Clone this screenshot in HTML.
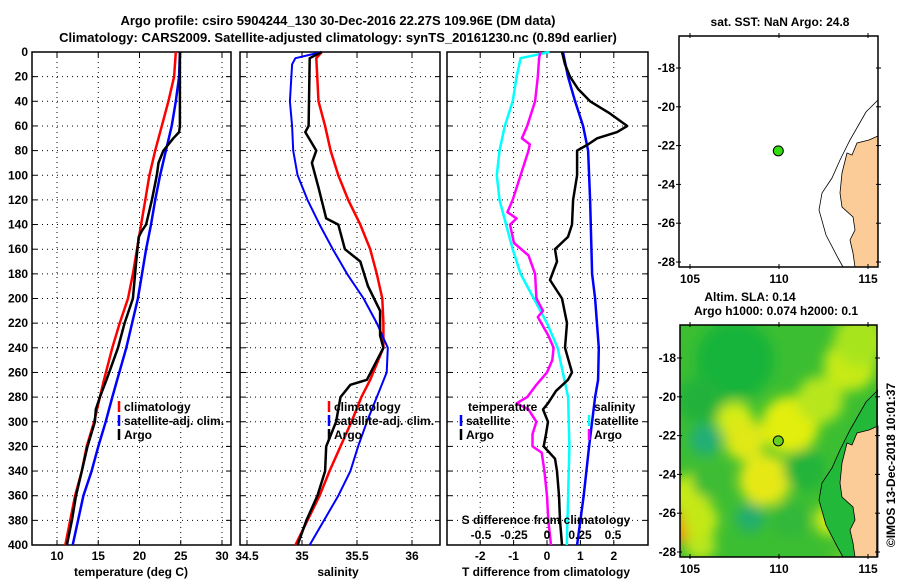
<!DOCTYPE html>
<html><head><meta charset="utf-8">
<style>
body{margin:0;background:#fff;}
svg text{font-family:"Liberation Sans",sans-serif;font-weight:bold;fill:#000;}
</style></head>
<body>
<svg id="fig" width="900" height="580" viewBox="0 0 900 580" xmlns="http://www.w3.org/2000/svg">
<defs>
<filter id="blur" x="-20%" y="-20%" width="140%" height="140%"><feGaussianBlur stdDeviation="6"/></filter>
<clipPath id="m2clip"><rect x="680" y="325" width="197" height="232"/></clipPath>
</defs>
<text x="338" y="25" font-size="13" text-anchor="middle">Argo profile: csiro 5904244_130 30-Dec-2016 22.27S 109.96E (DM data)</text>
<text x="338" y="42" font-size="13" text-anchor="middle">Climatology: CARS2009. Satellite-adjusted climatology: synTS_20161230.nc (0.89d earlier)</text>
<g id="g"></g>
</svg>
<script>
// depth levels (m)
const tClimD = [0,20,40,60,80,100,120,140,160,180,200,220,240,266,280,300,320,340,360,400];
const tClim  = [24.4,24.2,23.5,22.7,21.9,21.2,20.7,20.2,19.7,19.2,18.6,17.6,16.7,15.7,15.2,14.5,13.6,13.0,12.2,11.0];
const tSatD  = [0,20,40,60,80,100,120,140,160,180,200,220,240,266,280,300,320,340,360,400];
const tSat   = [24.9,24.8,24.4,23.9,23.2,22.5,21.9,21.4,20.8,20.3,19.8,19.1,18.4,17.3,16.7,15.9,15.0,14.2,13.2,11.9];
const tArgoD = [0,30,60,65,70,80,90,100,120,140,145,150,170,200,220,240,266,280,290,300,320,340,360,380,400];
const tArgo  = [24.9,24.9,24.9,24.8,24.1,22.9,22.3,22.1,21.5,20.8,20.3,19.9,19.6,19.2,18.2,17.4,16.0,15.2,14.7,14.6,13.7,13.0,12.3,11.8,11.2];
// salinity (PSU)
const sClimD = [0,5,40,60,80,100,120,140,160,180,200,220,240,266,280,300,320,340,360,400];
const sClim  = [35.18,35.13,35.15,35.21,35.26,35.33,35.42,35.53,35.62,35.68,35.73,35.74,35.74,35.62,35.54,35.45,35.35,35.25,35.16,34.94];
const sSatD  = [0,5,10,40,60,80,100,120,140,160,180,200,220,240,260,280,300,320,340,360,400];
const sSat   = [35.18,34.94,34.91,34.89,34.91,34.92,34.96,35.05,35.16,35.28,35.41,35.56,35.68,35.78,35.77,35.68,35.59,35.51,35.44,35.33,35.07];
const sArgoD = [0,5,60,65,80,90,110,135,140,160,170,190,210,230,240,266,270,280,290,300,320,340,360,380,400];
const sArgo  = [35.18,35.07,35.06,35.03,35.13,35.09,35.15,35.22,35.33,35.39,35.53,35.60,35.71,35.71,35.74,35.59,35.44,35.35,35.33,35.31,35.22,35.21,35.14,35.04,34.96];
// differences from climatology
const dTSatD = [0,20,40,60,80,120,180,200,240,266,280,320,360,400];
const dTSat  = [0.48,0.63,0.84,1.08,1.23,1.29,1.35,1.44,1.55,1.53,1.44,1.26,1.10,0.90];
const dTArgoD = [0,10,20,30,40,50,60,65,70,75,80,100,120,140,150,160,170,185,200,220,240,260,266,275,285,290,300,310,320,330,340,360,380,400];
const dTArgo  = [0.45,0.54,0.69,0.93,1.29,1.89,2.40,2.10,1.50,1.23,0.90,0.90,0.78,0.75,0.63,0.24,0.30,0.09,0.45,0.60,0.54,0.75,0.63,0.27,0.03,-0.12,0.03,-0.03,-0.10,0.24,0.30,0.36,0.39,0.45];
const dSSatD = [0,5,20,40,60,80,100,120,160,180,200,220,240,260,280,320,360,400];
const dSSat  = [0.02,-0.20,-0.23,-0.26,-0.32,-0.36,-0.38,-0.36,-0.26,-0.20,-0.10,0.00,0.08,0.12,0.16,0.17,0.16,0.15];
const dSArgoD = [0,5,20,40,60,70,75,80,100,120,130,135,140,155,165,180,200,210,215,230,240,250,260,270,280,285,290,300,310,320,325,340,360,380,400];
const dSArgo  = [-0.05,-0.06,-0.07,-0.09,-0.15,-0.19,-0.13,-0.14,-0.20,-0.26,-0.30,-0.23,-0.28,-0.25,-0.14,-0.09,-0.08,-0.03,-0.07,0.01,0.05,0.04,0.00,-0.08,-0.15,-0.23,-0.14,-0.08,-0.11,-0.11,-0.04,-0.02,0.00,0.01,0.03];
const depthTicks = [0,20,40,60,80,100,120,140,160,180,200,220,240,260,280,300,320,340,360,380,400];
const tTicks = [10,15,20,25,30];
const sTicks = [34.5,35,35.5,36];
const dtTicks = [-2,-1,0,1,2];
const dsTicks = [-0.5,-0.25,0,0.25,0.5];
const dsTickLabels = ['-0.5','-0.25','0','0.25','0.5'];
const lonTicks = [105,110,115];
const latTicks = [-18,-20,-22,-24,-26,-28];
const argoLon = 109.96, argoLat = -22.27;

const NS="http://www.w3.org/2000/svg";
const G=document.getElementById('g');
function el(tag,attrs,parent){const e=document.createElementNS(NS,tag);for(const k in attrs)e.setAttribute(k,attrs[k]);(parent||G).appendChild(e);return e;}
const TOP=52,BOT=545;
const yD=d=>TOP+d*(BOT-TOP)/400;
const P1={x0:32,x1:231}, P2={x0:240,x1:440}, P3={x0:447,x1:648};
const xT=v=>57+(v-10)*8.25;
const xS=v=>302+(v-35)*110;
const xDT=v=>547+v*33.4;
const xDS=v=>547+v*132;

function panel(P,name,xf,ticks,labels){
  const r=el('rect',{x:P.x0,y:TOP,width:P.x1-P.x0,height:BOT-TOP,fill:'#fff',stroke:'#000','stroke-width':1.5});
  
  
  depthTicks.forEach(d=>{
    if(d>0&&d<400){const l=el('line',{x1:P.x0,x2:P.x1,y1:yD(d),y2:yD(d),stroke:'#000','stroke-dasharray':'1 4','stroke-width':1});
    
    }
    el('line',{x1:P.x0,x2:P.x0+5,y1:yD(d),y2:yD(d),stroke:'#000'});
    el('line',{x1:P.x1,x2:P.x1-5,y1:yD(d),y2:yD(d),stroke:'#000'});
  });
  ticks.forEach((v,i)=>{
    const x=xf(v);
    const l=el('line',{x1:x,x2:x,y1:TOP,y2:BOT,stroke:'#000','stroke-dasharray':'1 4'});
    
    
    el('line',{x1:x,x2:x,y1:BOT,y2:BOT-5,stroke:'#000'});
    el('line',{x1:x,x2:x,y1:TOP,y2:TOP+5,stroke:'#000'});
    if(labels){const t=el('text',{x:x,y:BOT+15,'font-size':12,'text-anchor':'middle'});t.textContent=labels[i];
    
    }
  });
}
function line(xs,ds,xf,color,w,name){
  const pts=xs.map((v,i)=>xf(v).toFixed(1)+','+yD(ds[i]).toFixed(1)).join(' ');
  const p=el('polyline',{points:pts,fill:'none',stroke:color,'stroke-width':w,'stroke-linejoin':'round'});
  
  
}
function txt(x,y,s,name,size,anchor){const t=el('text',{x:x,y:y,'font-size':size||12,'text-anchor':anchor||'start'});t.textContent=s;
  
  return t;}
function legend(x,y,color,label,name){
  el('line',{x1:x,x2:x,y1:y-10,y2:y+1,stroke:color,'stroke-width':2.5});
  txt(x+5,y,label,name);
}

panel(P1,'temperature-panel',xT,tTicks,tTicks.map(String));
depthTicks.forEach(d=>{txt(28,yD(d)+4,String(d),'depth-tick-label',12,'end');});
line(tClim,tClimD,xT,'#f00',2.5,'temperature-climatology-line');
line(tSat,tSatD,xT,'#00f',2.5,'temperature-satellite-line');
line(tArgo,tArgoD,xT,'#000',2.5,'temperature-argo-line');
txt(131,576,'temperature (deg C)','temperature-axis-title',12,'middle');
legend(119,411,'#f00','climatology','legend-climatology');
legend(119,425,'#00f','satellite-adj. clim.','legend-satellite');
legend(119,439,'#000','Argo','legend-argo');

panel(P2,'salinity-panel',xS,sTicks,sTicks.map(String));
line(sClim,sClimD,xS,'#f00',2.5,'salinity-climatology-line');
line(sSat,sSatD,xS,'#00f',2,'salinity-satellite-line');
line(sArgo,sArgoD,xS,'#000',2.5,'salinity-argo-line');
txt(338,576,'salinity','salinity-axis-title',12,'middle');
legend(329,411,'#f00','climatology','legend-climatology-2');
legend(329,425,'#00f','satellite-adj. clim.','legend-satellite-2');
legend(329,439,'#000','Argo','legend-argo-2');

panel(P3,'difference-panel',xDT,dtTicks,dtTicks.map(String));
line(dSSat,dSSatD,xDS,'#0ff',2.5,'salinity-satellite-diff-line');
line(dSArgo,dSArgoD,xDS,'#f0f',2.5,'salinity-argo-diff-line');
line(dTSat,dTSatD,xDT,'#00f',2.5,'temperature-satellite-diff-line');
line(dTArgo,dTArgoD,xDT,'#000',2.5,'temperature-argo-diff-line');
txt(468,411,'temperature','legend-temperature-header');
legend(461,425,'#00f','satellite','legend-temp-satellite');
legend(461,439,'#000','Argo','legend-temp-argo');
txt(594,411,'salinity','legend-salinity-header');
legend(589,425,'#0ff','satellite','legend-sal-satellite');
legend(589,439,'#f0f','Argo','legend-sal-argo');
txt(546,524,'S difference from climatology','s-difference-title',12,'middle');
dsTicks.forEach((v,i)=>{txt(xDS(v),539,dsTickLabels[i],'s-tick-label',12,'middle');});
txt(546,576,'T difference from climatology','t-difference-title',12,'middle');

const M1={x0:679,x1:878,y0:36,y1:267,latRef:68};
const M2={x0:680,x1:877,y0:325,y1:557,latRef:358};
const mx=lon=>690+(lon-105)*17.8;
const my=(M,lat)=>M.latRef+(-18-lat)*19.4;
function coast(M,off,name,shelfFill){
  if(shelfFill){
    const sh=[[878,100],[866,112],[858,126],[850,140],[840,160],[832,178],[822,193],[819,210],[826,235],[838,258],[843,267],[878,267]];
    const s=el('polygon',{points:sh.map(p=>p[0]+','+(p[1]+off)).join(' '),fill:shelfFill,stroke:'none'});
    
    
  }
  const pts=[[878,136],[869,140],[857,143],[852,155],[847,153],[842,173],[840,193],[842,207],[853,217],[855,230],[850,240],[853,253],[855,267],[878,267]];
  const l=el('polygon',{points:pts.map(p=>p[0]+','+(p[1]+off)).join(' '),fill:'#fccc98',stroke:'#000','stroke-width':0.8});
  
  
  const shelf=[[878,100],[866,112],[858,126],[850,140],[840,160],[832,178],[822,193],[819,210],[826,235],[838,258],[843,267]];
  const c=el('polyline',{points:shelf.map(p=>p[0]+','+(p[1]+off)).join(' '),fill:'none',stroke:'#000','stroke-width':0.8});
  
  
}
function mapAxes(M,name){
  const r=el('rect',{x:M.x0,y:M.y0,width:M.x1-M.x0,height:M.y1-M.y0,fill:'none',stroke:'#000','stroke-width':1.5});
  
  
  lonTicks.forEach(v=>{const x=mx(v);el('line',{x1:x,x2:x,y1:M.y0-3,y2:M.y0+2,stroke:'#000'});el('line',{x1:x,x2:x,y1:M.y1-3,y2:M.y1+2,stroke:'#000'});
    txt(x,M.y1+16,String(v),name+'-lon-label',12,'middle');});
  latTicks.forEach(v=>{const y=my(M,v);el('line',{x1:M.x0-3,x2:M.x0+2,y1:y,y2:y,stroke:'#000'});el('line',{x1:M.x1-2,x2:M.x1+3,y1:y,y2:y,stroke:'#000'});
    txt(M.x0-4,y+4,String(v),name+'-lat-label',12,'end');});
}
el('rect',{x:M1.x0,y:M1.y0,width:M1.x1-M1.x0,height:M1.y1-M1.y0,fill:'#fff'});
coast(M1,0,'sst-map',null);
mapAxes(M1,'sst-map');
const c1=el('circle',{cx:mx(argoLon),cy:my(M1,argoLat),r:5,fill:'#33dd11',stroke:'#000'});


txt(780,26,'sat. SST: NaN Argo: 24.8','sst-map-title',12,'middle');
txt(750,301,'Altim. SLA: 0.14','sla-map-title',12,'middle');
txt(776,315,'Argo h1000: 0.074 h2000: 0.1','sla-map-subtitle',12,'middle');

// map 2 SLA field blobs
const blobX=[735,700,705,790,820,850,690,750,765,683,700,735,830,805,700,860,745,790,710,845];
const blobY=[360,400,440,425,400,365,495,518,480,528,545,420,520,470,520,340,440,520,480,560];
const blobR=[30,18,12,22,18,20,16,11,20,12,12,14,12,16,14,20,16,14,14,12];
const blobC=['#18b43a','#22b23a','#20ae78','#e2ee10','#b8e61c','#c6ea18','#c8ea18','#22ae70','#e6e814','#f08a10','#b8e61a','#d4ec14','#d0ea18','#20b43a','#c4e818','#a8e41e','#e0e814','#30b83a','#3cbc34','#5cc82a'];
const mg=el('g',{'clip-path':'url(#m2clip)'});
el('rect',{x:680,y:325,width:197,height:232,fill:'#3cbe32'},mg);
const bl=el('g',{filter:'url(#blur)'},mg);
blobX.forEach((x,i)=>{const c=el('ellipse',{cx:x,cy:blobY[i],rx:blobR[i]*1.3,ry:blobR[i]*1.3,fill:blobC[i]},bl);
  
  });
coast(M2,290,'sla-map','#22b83a');
mapAxes(M2,'sla-map');
const c2=el('circle',{cx:mx(argoLon),cy:my(M2,argoLat),r:5,fill:'#66d020',stroke:'#000'});


const cr=txt(0,0,'©IMOS 13-Dec-2018 10:01:37','copyright-stamp',12,'middle');
cr.setAttribute('transform','translate(895,465) rotate(-90)');
cr.setAttribute('font-weight','normal');
</script>
</body></html>
